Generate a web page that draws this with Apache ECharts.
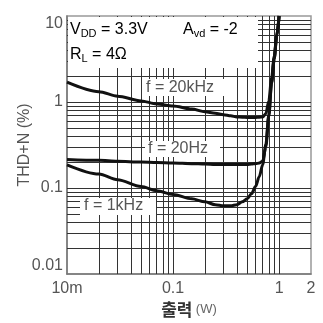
<!DOCTYPE html>
<html>
<head>
<meta charset="utf-8">
<script src="https://cdn.jsdelivr.net/npm/echarts@6/dist/echarts.min.js"></script>
<style>
html,body{margin:0;padding:0;background:#fff}
#chart{width:323px;height:323px}
</style>
</head>
<body>
<div id="chart"></div>
<script>
// Output power (W) sample points shared by all three curves
const powerW = [0.01, 0.02, 0.03, 0.05, 0.07, 0.1, 0.15, 0.2, 0.25, 0.3, 0.35, 0.4,
                0.45, 0.5, 0.55, 0.6, 0.65, 0.7, 0.75, 0.8, 0.85, 0.9, 0.95, 1.0];

// THD+N (%) for each test frequency
const thd20kHz = [1.70, 1.32, 1.17, 1.03, 0.95, 0.90, 0.83, 0.77, 0.74, 0.71, 0.69, 0.67,
                  0.665, 0.66, 0.66, 0.66, 0.665, 0.67, 0.73, 1.03, 1.9, 3.4, 6.0, 10];
const thd20Hz  = [0.215, 0.21, 0.205, 0.20, 0.198, 0.195, 0.192, 0.19, 0.188, 0.187, 0.187, 0.187,
                  0.188, 0.188, 0.19, 0.192, 0.195, 0.205, 0.30, 0.68, 1.65, 3.2, 5.9, 10];
const thd1kHz  = [0.186, 0.145, 0.125, 0.104, 0.093, 0.084, 0.075, 0.069, 0.064, 0.062, 0.062, 0.064,
                  0.069, 0.075, 0.086, 0.104, 0.135, 0.186, 0.32, 0.71, 1.7, 3.2, 5.8, 10];

// Grid line positions (minor decades)
const xGridValues = [0.02,0.03,0.04,0.05,0.06,0.07,0.08,0.09,0.1,0.2,0.3,0.4,0.5,0.6,0.7,0.8,0.9,1];
const yGridValues = [0.02,0.03,0.04,0.05,0.06,0.07,0.08,0.09,0.1,0.2,0.3,0.4,0.5,0.6,0.7,0.8,0.9,1,2,3,4,5,6,7,8,9];

const xTickLabels = {'0.01': '10m', '0.1': '0.1', '1': '1', '2': '2'};
const yTickLabels = {'0.01': '0.01', '0.1': '0.1', '1': '1', '10': '10'};

const FONT = "'Liberation Sans', Arial, sans-serif";
const TEXT = '#555';
const GRID = '#333';

function pairs(ys) { return powerW.map((x, i) => [x, ys[i]]); }
function keyOf(v) { return String(parseFloat(Number(v).toPrecision(6))); }

const chart = echarts.init(document.getElementById('chart'), null, {renderer: 'canvas'});

const curveStyle = {type: 'line', showSymbol: false, smooth: 0.3, smoothMonotone: 'x',
  lineStyle: {color: '#111', width: 3}, z: 3, silent: true, clip: true};

const rich = {
  a: {fontSize: 16, fontFamily: FONT, lineHeight: 18, color: TEXT},
  s: {fontSize: 11, fontFamily: FONT, lineHeight: 11, verticalAlign: 'bottom', color: TEXT}
};

chart.setOption({
  animation: false,
  backgroundColor: '#fff',
  grid: {left: 67, right: 12, top: 16, bottom: 48, show: true, borderColor: '#999', borderWidth: 1.5},
  xAxis: {
    type: 'log', logBase: 10, min: 0.01, max: 2, interval: 1,
    name: '{k|출력} {u|(W)}', nameLocation: 'middle', nameGap: 27, nameMoveOverlap: false,
    nameTextStyle: {rich: {
      k: {fontFamily: "'Noto Sans CJK KR', sans-serif", fontSize: 17, fontWeight: 'bold', color: '#333'},
      u: {fontFamily: FONT, fontSize: 13, color: '#666'}
    }},
    axisLine: {show: true, lineStyle: {color: '#777', width: 1.5}},
    axisTick: {show: false},
    splitLine: {show: false},
    axisLabel: {fontFamily: FONT, fontSize: 16, color: TEXT, margin: 7,
      showMinLabel: true, showMaxLabel: true,
      formatter: v => xTickLabels[keyOf(v)] || ''}
  },
  yAxis: {
    type: 'log', logBase: 10, min: 0.01, max: 10, interval: 1,
    name: 'THD+N (%)', nameLocation: 'middle', nameGap: 34, nameMoveOverlap: false,
    nameTextStyle: {fontFamily: FONT, fontSize: 16, color: TEXT},
    axisLine: {show: true, lineStyle: {color: '#777', width: 1.5}},
    axisTick: {show: false},
    splitLine: {show: false},
    axisLabel: {fontFamily: FONT, fontSize: 16, color: TEXT, margin: 4,
      verticalAlignMinLabel: 'bottom', verticalAlignMaxLabel: 'top',
      formatter: v => yTickLabels[keyOf(v)] || ''}
  },
  series: [
    {
      type: 'line', data: [], silent: true, z: 1,
      markLine: {
        z: 1, silent: true, symbol: 'none', animation: false,
        label: {show: false},
        lineStyle: {color: GRID, width: 1, type: 'solid'},
        emphasis: {disabled: true},
        data: xGridValues.map(v => ({xAxis: v})).concat(yGridValues.map(v => ({yAxis: v})))
      }
    },
    Object.assign({name: 'f = 20kHz', data: pairs(thd20kHz)}, curveStyle),
    Object.assign({name: 'f = 20Hz', data: pairs(thd20Hz)}, curveStyle),
    Object.assign({name: 'f = 1kHz', data: pairs(thd1kHz)}, curveStyle)
  ],
  graphic: [
    {type: 'rect', shape: {x: 68, y: 17, width: 190, height: 51}, style: {fill: '#fff'}, z: 2, silent: true},
    {type: 'rect', shape: {x: 143, y: 79, width: 81, height: 17}, style: {fill: '#fff'}, z: 2, silent: true},
    {type: 'rect', shape: {x: 145, y: 141, width: 75, height: 16}, style: {fill: '#fff'}, z: 2, silent: true},
    {type: 'rect', shape: {x: 80, y: 198, width: 76, height: 17}, style: {fill: '#fff'}, z: 2, silent: true},
    {type: 'text', x: 70, y: 30, z: 4, silent: true,
      style: {text: '{a|V}{s|DD}{a| = 3.3V}', rich: rich, verticalAlign: 'middle'}},
    {type: 'text', x: 183, y: 30, z: 4, silent: true,
      style: {text: '{a|A}{s|vd}{a| = -2}', rich: rich, verticalAlign: 'middle'}},
    {type: 'text', x: 70, y: 55, z: 4, silent: true,
      style: {text: '{a|R}{s|L}{a| = 4Ω}', rich: rich, verticalAlign: 'middle'}},
    {type: 'text', x: 146, y: 88, z: 4, silent: true,
      style: {text: 'f = 20kHz', font: '16px ' + FONT, fill: TEXT, verticalAlign: 'middle'}},
    {type: 'text', x: 148, y: 149, z: 4, silent: true,
      style: {text: 'f = 20Hz', font: '16px ' + FONT, fill: TEXT, verticalAlign: 'middle'}},
    {type: 'text', x: 84, y: 206, z: 4, silent: true,
      style: {text: 'f = 1kHz', font: '16px ' + FONT, fill: TEXT, verticalAlign: 'middle'}}
  ]
});
</script>
</body>
</html>
